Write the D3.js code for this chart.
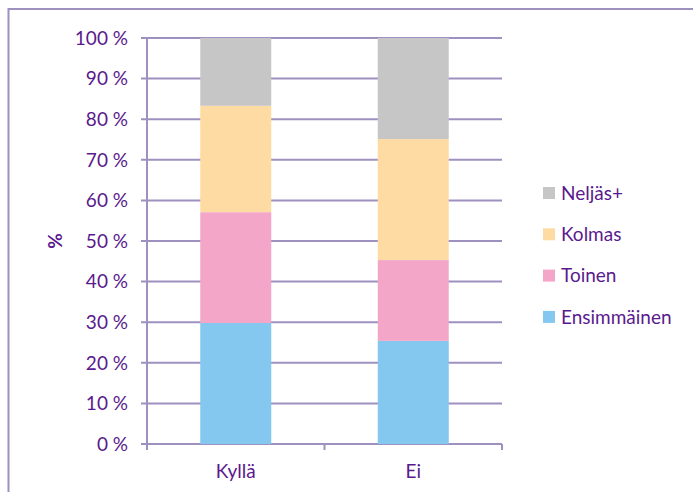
<!DOCTYPE html>
<html>
<head>
<meta charset="utf-8">
<script src="https://cdn.jsdelivr.net/npm/d3@7"></script>
<style>
  body { margin: 0; background: #fff; }
  svg { display: block; font-family: Lato, "Open Sans", sans-serif; }
</style>
</head>
<body>
<svg id="chart" width="693" height="492"></svg>
<script>
'use strict';

// Data (percent of each group)
const categories = ["Kyllä", "Ei"];
const seriesNames = ["Ensimmäinen", "Toinen", "Kolmas", "Neljäs+"];
const ensimmainen = [29.8, 25.4];
const toinen = [27.3, 19.9];
const kolmas = [26.2, 29.8];
const neljas = [16.7, 24.9];
const yTicks = [0, 10, 20, 30, 40, 50, 60, 70, 80, 90, 100];

const colors = ["#84c8f0", "#f4a6c9", "#ffdba4", "#c6c6c6"];
const textColor = "#5a1a8e";
const gridColor = "#9e90bf";
const fontSize = 19;

function main() {
    const svg = d3.select("#chart");
    const plot = {left: 147, right: 502, top: 38, bottom: 444};

    // outer chart border (runs off the right and bottom of the picture)
    svg.append("rect")
        .attr("x", 8.5).attr("y", 9)
        .attr("width", 720).attr("height", 520)
        .attr("fill", "none")
        .attr("stroke", gridColor)
        .attr("stroke-width", 2);

    const table = categories.map((c, i) => ({
        cat: c,
        "Ensimmäinen": ensimmainen[i],
        "Toinen": toinen[i],
        "Kolmas": kolmas[i],
        "Neljäs+": neljas[i]
    }));
    const stacked = d3.stack().keys(seriesNames)(table);

    const x = d3.scaleBand().domain(categories)
        .range([plot.left, plot.right])
        .paddingInner(0.6).paddingOuter(0.3);
    const y = d3.scaleLinear().domain([0, 100]).range([plot.bottom, plot.top]);

    // gridlines
    svg.append("g").selectAll("line").data(yTicks).join("line")
        .attr("x1", plot.left - 6).attr("x2", plot.right)
        .attr("y1", d => y(d)).attr("y2", d => y(d))
        .attr("stroke", gridColor).attr("stroke-width", 2);

    // bars
    svg.append("g").selectAll("g").data(stacked).join("g")
        .attr("fill", (d, i) => colors[i])
        .selectAll("rect").data(d => d).join("rect")
        .attr("x", d => x(d.data.cat))
        .attr("width", x.bandwidth())
        .attr("y", d => y(d[1]))
        .attr("height", d => y(d[0]) - y(d[1]));

    // y axis line
    svg.append("line")
        .attr("x1", plot.left).attr("x2", plot.left)
        .attr("y1", plot.top - 1).attr("y2", plot.bottom + 6)
        .attr("stroke", gridColor).attr("stroke-width", 2);

    // category separator ticks
    const step = (plot.right - plot.left) / categories.length;
    svg.append("g").selectAll("line").data(d3.range(categories.length + 1)).join("line")
        .attr("x1", d => plot.left + d * step).attr("x2", d => plot.left + d * step)
        .attr("y1", plot.bottom).attr("y2", plot.bottom + 6)
        .attr("stroke", gridColor).attr("stroke-width", 2);

    // y tick labels
    svg.append("g").selectAll("text").data(yTicks).join("text")
        .attr("x", 128).attr("y", d => y(d))
        .attr("dy", "0.36em")
        .attr("text-anchor", "end")
        .attr("fill", textColor)
        .attr("font-size", fontSize)
        .text(d => d + " %");

    // category labels
    svg.append("g").selectAll("text").data(categories).join("text")
        .attr("x", d => x(d) + x.bandwidth() / 2).attr("y", 478)
        .attr("text-anchor", "middle")
        .attr("fill", textColor)
        .attr("font-size", fontSize)
        .text(d => d);

    // y axis title
    svg.append("text")
        .attr("transform", "translate(62,241) rotate(-90)")
        .attr("text-anchor", "middle")
        .attr("fill", textColor)
        .attr("font-size", fontSize)
        .attr("font-weight", "bold")
        .text("%");

    // legend, top entry is the top of the stack
    const legendItems = seriesNames.map((n, i) => ({name: n, color: colors[i]})).reverse();
    const lg = svg.append("g").selectAll("g").data(legendItems).join("g")
        .attr("transform", (d, i) => `translate(543,${193 + i * 41.3})`);
    lg.append("rect")
        .attr("x", 0).attr("y", -6)
        .attr("width", 12).attr("height", 12)
        .attr("fill", d => d.color);
    lg.append("text")
        .attr("x", 18).attr("y", 0)
        .attr("dy", "0.36em")
        .attr("fill", textColor)
        .attr("font-size", fontSize)
        .text(d => d.name);
}

main();
</script>
</body>
</html>
